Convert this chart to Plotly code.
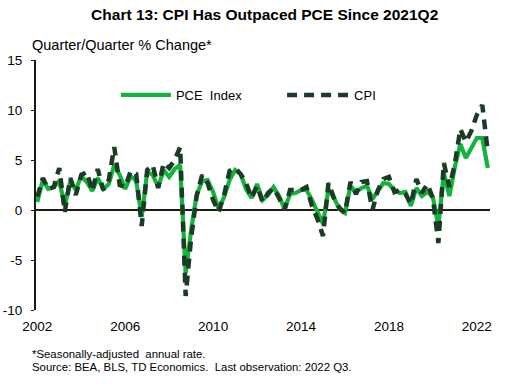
import plotly.graph_objects as go

years = list(range(2002, 2023))
quarters = [(y, q) for y in years for q in range(1, 5)][:83]  # 2002Q1 .. 2022Q3

pce = [
    0.8, 3.0, 2.1, 2.3,
    2.9, 0.4, 2.9, 2.0,
    3.4, 2.8, 1.9, 3.2,
    2.1, 2.6, 4.5, 3.5,
    2.1, 3.4, 2.9, -0.7,
    3.8, 3.5, 2.3, 4.0,
    3.3, 4.1, 4.5, -6.3,
    -2.0, 1.5, 2.9, 3.0,
    1.8, 0.1, 1.3, 3.0,
    4.0, 3.6, 2.1, 1.2,
    2.6, 1.0, 1.5, 2.3,
    1.4, 0.1, 1.6, 1.7,
    2.0, 2.0, 1.0, -0.3,
    -1.4, 2.1, 1.2, 0.1,
    -0.3, 2.4, 1.8, 2.2,
    2.4, 1.1, 2.0, 2.7,
    2.6, 2.0, 1.7, 1.8,
    0.4, 2.2, 1.4, 1.8,
    1.3, -1.6, 3.7, 1.4,
    4.3, 6.6, 5.2, 6.3,
    7.2, 7.2, 4.2,
]

cpi = [
    1.3, 3.2, 2.1, 2.3,
    4.2, -0.2, 3.2, 1.5,
    3.5, 3.8, 1.9, 4.1,
    2.0, 3.0, 6.3, 2.5,
    2.3, 3.9, 3.6, -1.6,
    4.0, 4.5, 2.2, 4.7,
    4.2, 5.0, 6.3, -8.6,
    -2.8, 1.4, 3.5, 2.7,
    1.0, -0.2, 1.5, 3.9,
    4.2, 3.6, 2.7, 1.2,
    2.4, 0.8, 1.7, 2.2,
    1.2, 0.0, 2.0, 2.0,
    2.0, 2.3, 0.4, -0.9,
    -2.6, 2.7, 1.2, 0.2,
    -0.3, 2.8, 1.6, 2.8,
    2.9, 0.0, 2.0, 3.1,
    3.3, 1.8, 2.0, 1.6,
    0.6, 3.1, 1.7, 2.6,
    1.2, -3.3, 4.7, 2.3,
    4.6, 8.1, 6.8, 7.9,
    9.5, 10.5, 5.8,
]

x_ticks = [2002, 2006, 2010, 2014, 2018, 2022]
y_ticks = [-10, -5, 0, 5, 10, 15]

x = [y + (q - 1) / 4 for (y, q) in quarters]

FONT = "Liberation Sans, Arial, sans-serif"
GREEN = "#12B53A"
DARK = "#1C3B27"

fig = go.Figure()
fig.add_trace(go.Scatter(x=x, y=pce, mode="lines", name="PCE  Index", legend="legend",
                         line=dict(color=GREEN, width=4.2)))
fig.add_trace(go.Scatter(x=x, y=cpi, mode="lines", name="CPI", legend="legend2",
                         line=dict(color=DARK, width=4.5, dash="10px,7px")))

leg_common = dict(orientation="h", xanchor="left", yanchor="middle",
                  bgcolor="rgba(0,0,0,0)", font=dict(size=13, family=FONT))

fig.update_layout(
    width=515, height=384,
    margin=dict(l=36, r=25, t=60, b=74),
    paper_bgcolor="white", plot_bgcolor="white",
    font=dict(family=FONT, size=13, color="#000000"),
    title=dict(text="<b>Chart 13: CPI Has Outpaced PCE Since 2021Q2</b>",
               x=0.514, xanchor="center", y=0.963, yanchor="middle",
               font=dict(size=15.5, family=FONT, color="#000000")),
    showlegend=True,
    legend=dict(x=0.176, y=0.86, itemwidth=50, **leg_common),
    legend2=dict(x=0.542, y=0.86, itemwidth=62, **leg_common),
    xaxis=dict(range=[2001.94, 2022.6], tickmode="array", tickvals=x_ticks,
               ticktext=[str(v) for v in x_ticks], showgrid=False, zeroline=False,
               showline=False, ticks="", ticklabelstandoff=6, automargin=False,
               tickfont=dict(size=13.5)),
    yaxis=dict(range=[-10, 15], tickmode="array", tickvals=y_ticks,
               ticktext=[str(v) for v in y_ticks], showgrid=False,
               zeroline=True, zerolinecolor="#1a1a0f", zerolinewidth=2,
               showline=True, linecolor="#1a1a0f", linewidth=2,
               ticks="outside", ticklen=3, tickcolor="#1a1a0f", automargin=False,
               ticklabelstandoff=6, tickfont=dict(size=13.5)),
    annotations=[
        dict(text="Quarter/Quarter % Change*", xref="paper", yref="paper",
             x=-0.014, y=1.0, xanchor="left", yanchor="middle", yshift=15,
             showarrow=False, font=dict(size=14.5, family=FONT)),
        dict(text="*Seasonally-adjusted  annual rate.", xref="paper", yref="paper",
             x=-0.014, y=-0.176, xanchor="left", yanchor="middle",
             showarrow=False, font=dict(size=11.4, family=FONT)),
        dict(text="Source: BEA, BLS, TD Economics.  Last observation: 2022 Q3.",
             xref="paper", yref="paper", x=-0.014, y=-0.228, xanchor="left", yanchor="middle",
             showarrow=False, font=dict(size=11.4, family=FONT)),
    ],
)

fig.write_html("out.html", config={"displayModeBar": False},
               post_script="document.body.style.margin='0';")
